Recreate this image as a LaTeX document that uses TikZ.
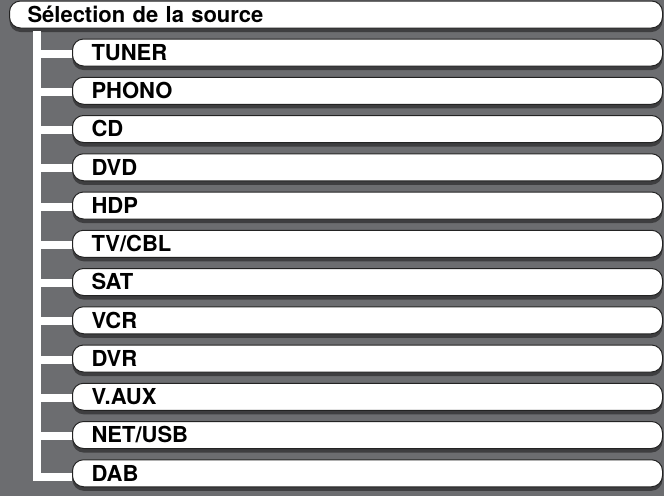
\documentclass[tikz,border=0pt]{standalone}
\usepackage{fontspec}
\setmainfont{TeX Gyre Heros}
\usetikzlibrary{shadows}
\definecolor{panelgray}{RGB}{108,109,112}
\definecolor{shadegray}{RGB}{62,62,64}
\definecolor{rimgray}{RGB}{35,35,35}
\begin{document}
\begin{tikzpicture}[x=1pt,y=-1pt,
 src/.style={draw=rimgray,line width=1pt,fill=white,rounded corners=11pt,
  anchor=west,minimum height=27pt,inner ysep=0pt,align=left,
  text height=15.8pt,text depth=0pt,
  font=\fontsize{22}{25}\selectfont\bfseries,
  drop shadow={shadow xshift=0pt,shadow yshift=-4pt,fill=shadegray,opacity=1}},
 ele/.style={src,inner xsep=19pt,text width=552pt},
 tree/.style={white,line width=8pt}]

	\fill[panelgray] (0,0) rectangle (664,496);
	\useasboundingbox (0,0) rectangle (664,496);

	\node[src,inner xsep=18pt,text width=617pt] (sel) at (9,14.5) {Sélection de la source};
	\node[ele] (tuner) at (72,52.5) {TUNER};
	\node[ele] (phono) at (72,90.75) {PHONO};
	\node[ele] (cd) at (72,129) {CD};
	\node[ele] (dvd) at (72,167.25) {DVD};
	\node[ele] (hdp) at (72,205.5) {HDP};
	\node[ele] (tvcbl) at (72,243.75) {TV/CBL};
	\node[ele] (sat) at (72,282) {SAT};
	\node[ele] (vcr) at (72,320.25) {VCR};
	\node[ele] (dvr) at (72,358.5) {DVR};
	\node[ele] (vaux) at (72,396.75) {V.AUX};
	\node[ele] (netusb) at (72,435) {NET/USB};
	\node[ele] (dab) at (72,473.25) {DAB};

	\coordinate (root) at (36.5,31);
	\draw[tree] (root) |- ([yshift=-4pt]dab.west);
	\foreach \s in {tuner,phono,cd,dvd,hdp,tvcbl,sat,vcr,dvr,vaux,netusb}
		\draw[tree] ([yshift=-1pt]\s.west -| root) -- ([yshift=-1pt]\s.west);
\end{tikzpicture}
\end{document}
